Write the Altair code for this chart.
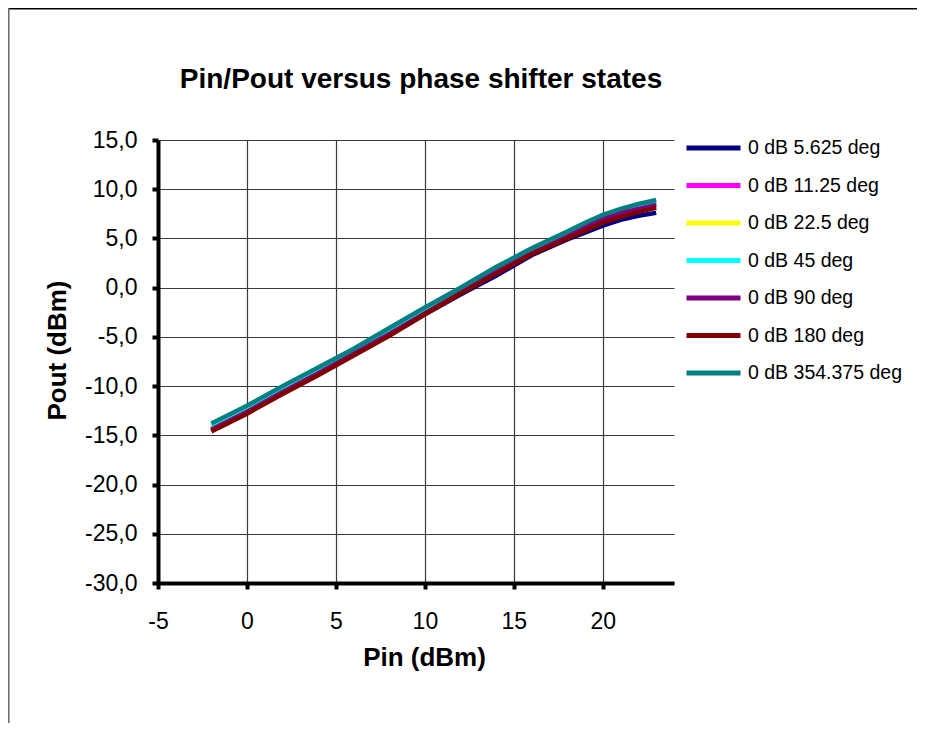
import altair as alt
import pandas as pd

pin = [-2, 0, 2, 4, 6, 8, 10, 12, 14, 16, 18, 19, 20, 21, 22, 23]

series_names = [
    "0 dB  5.625 deg",
    "0 dB  11.25 deg",
    "0 dB  22.5 deg",
    "0 dB  45 deg",
    "0 dB  90 deg",
    "0 dB  180 deg",
    "0 dB  354.375 deg",
]
series_colors = ["#000080", "#FF00FF", "#FFFF00", "#00FFFF", "#800080", "#800000", "#008080"]

pout_5625 = [-14.5, -12.7, -10.7, -8.8, -6.8, -4.8, -2.7, -0.7, 1.2, 3.3, 4.9, 5.6, 6.3, 6.9, 7.3, 7.6]
pout_1125 = [-14.3, -12.5, -10.5, -8.6, -6.6, -4.6, -2.5, -0.4, 1.6, 3.6, 5.3, 6.2, 7.0, 7.7, 8.2, 8.6]
pout_225 = [-14.2, -12.4, -10.4, -8.5, -6.5, -4.5, -2.4, -0.3, 1.7, 3.6, 5.3, 6.1, 6.9, 7.6, 8.1, 8.5]
pout_45 = [-14.0, -12.2, -10.3, -8.3, -6.4, -4.4, -2.3, -0.2, 1.8, 3.8, 5.4, 6.3, 7.1, 7.7, 8.2, 8.6]
pout_90 = [-14.4, -12.6, -10.6, -8.7, -6.7, -4.7, -2.6, -0.5, 1.6, 3.5, 5.2, 6.1, 7.0, 7.6, 8.0, 8.4]
pout_180 = [-14.6, -12.8, -10.8, -8.9, -6.9, -4.9, -2.7, -0.6, 1.4, 3.4, 5.0, 5.8, 6.6, 7.2, 7.7, 8.1]
pout_354 = [-13.8, -12.0, -10.0, -8.1, -6.2, -4.1, -2.0, 0.0, 2.1, 4.0, 5.7, 6.6, 7.4, 8.0, 8.5, 8.9]

all_series = [pout_5625, pout_1125, pout_225, pout_45, pout_90, pout_180, pout_354]

x_ticks = [-5, 0, 5, 10, 15, 20]
y_ticks = [15, 10, 5, 0, -5, -10, -15, -20, -25, -30]

chart_title = "Pin/Pout versus phase shifter states"

rows = []
for si, (name, vals) in enumerate(zip(series_names, all_series)):
    for p, v in zip(pin, vals):
        rows.append({"series": name, "order": si, "Pin": p, "Pout": v})
df = pd.DataFrame(rows)

FONT = "Liberation Sans"

lines = alt.Chart(df).mark_line(strokeWidth=4.5, clip=True).encode(
    x=alt.X(
        "Pin:Q",
        scale=alt.Scale(domain=[-5, 24], nice=False, zero=False),
        axis=alt.Axis(
            values=x_ticks,
            title="Pin (dBm)",
            grid=True,
            labelFlush=False,
            labelFontSize=23,
            labelPadding=21,
            titleFontSize=26,
            titleFontWeight="bold",
            titlePadding=11,
            titleX=266,
            labelExpr="replace(format(datum.value, 'd'), '\u2212', '-')",
        ),
    ),
    y=alt.Y(
        "Pout:Q",
        scale=alt.Scale(domain=[-30, 15], nice=False, zero=False),
        axis=alt.Axis(
            values=y_ticks,
            title="Pout (dBm)",
            grid=True,
            labelFontSize=23,
            labelPadding=15,
            titleFontSize=26,
            titleFontWeight="bold",
            titlePadding=14,
            titleY=210,
            labelExpr="replace(replace(format(datum.value, '.1f'), '.', ','), '\u2212', '-')",
        ),
    ),
    color=alt.Color(
        "series:N",
        sort=series_names,
        scale=alt.Scale(domain=series_names, range=series_colors),
        legend=alt.Legend(
            title=None,
            orient="none",
            legendX=526,
            legendY=-2,
            symbolType="stroke",
            symbolSize=2916,
            symbolStrokeWidth=5,
            clipHeight=20,
            rowPadding=17.5,
            labelFontSize=19.5,
            labelOffset=5,
            labelFont=FONT,
            labelColor="#000000",
            padding=0,
        ),
    ),
    order=alt.Order("order:Q"),
)

one_row = alt.Data(values=[{"k": 1}])
title_text = alt.Chart(one_row).mark_text(
    text=chart_title,
    font=FONT,
    fontSize=28,
    fontWeight="bold",
    color="#000000",
    align="center",
    baseline="middle",
).encode(x=alt.value(263), y=alt.value(-60))

frame_top = alt.Chart(one_row).mark_rule(color="#000000", strokeWidth=1.5).encode(
    x=alt.value(-150), x2=alt.value(767), y=alt.value(-131.2)
)
frame_left = alt.Chart(one_row).mark_rule(color="#666666", strokeWidth=1.5).encode(
    x=alt.value(-149.2), y=alt.value(-132), y2=alt.value(600)
)

chart = (
    alt.layer(lines, title_text, frame_top, frame_left)
    .properties(
        width=516,
        height=443,
        autosize=alt.AutoSizeParams(type="none"),
        padding={"left": 150, "top": 132, "right": 243, "bottom": 140},
        background="white",
    )
    .configure_view(stroke=None)
    .configure_axis(
        labelFont=FONT,
        titleFont=FONT,
        labelColor="#000000",
        titleColor="#000000",
        domainColor="#000000",
        domainWidth=4,
        tickColor="#000000",
        tickWidth=4,
        tickSize=6,
        gridColor="#3a3a3a",
        gridWidth=1.2,
        gridOpacity=1,
    )
)

chart.save("out.html", embed_options={"renderer": "svg", "actions": False})
